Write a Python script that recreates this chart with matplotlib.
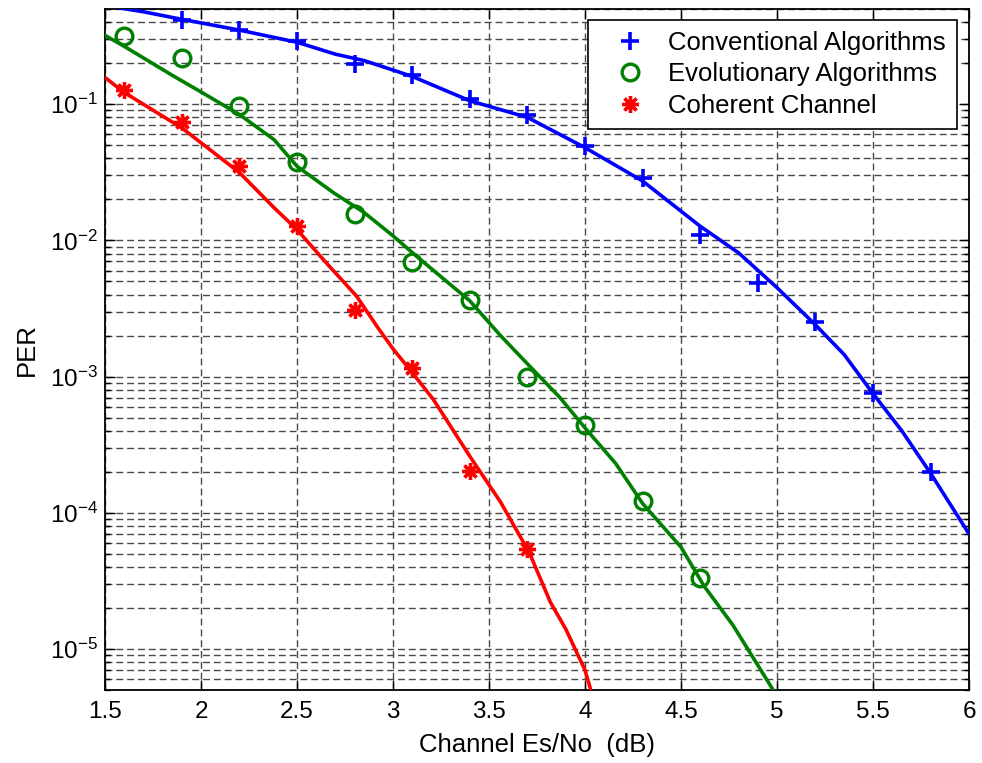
import numpy as np
import matplotlib
matplotlib.use('Agg')
import matplotlib.pyplot as plt

plt.rcParams['font.family'] = ['Liberation Sans', 'DejaVu Sans']
plt.rcParams['mathtext.fontset'] = 'custom'
plt.rcParams['mathtext.rm'] = 'Liberation Sans'
plt.rcParams['mathtext.default'] = 'regular'

# simulated points (markers)
conv_x = [1.9, 2.2, 2.5, 2.8, 3.1, 3.4, 3.7, 4.0, 4.3, 4.6, 4.9, 5.2, 5.5, 5.8]
conv_y = [0.417, 0.35, 0.29, 0.197, 0.163, 0.109, 0.084, 0.049, 0.0285, 0.011,
          0.0049, 0.0025, 7.6e-4, 1.98e-4]

evo_x = [1.6, 1.9, 2.2, 2.5, 2.8, 3.1, 3.4, 3.7, 4.0, 4.3, 4.6]
evo_y = [0.318, 0.217, 0.097, 0.0377, 0.0155, 0.0069, 0.00364, 1.0e-3, 4.4e-4,
         1.22e-4, 3.3e-5]

coh_x = [1.6, 1.9, 2.2, 2.5, 2.8, 3.1, 3.4, 3.7]
coh_y = [0.127, 0.074, 0.0352, 0.0127, 0.0031, 1.15e-3, 2.04e-4, 5.4e-5]

# curves (solid lines)
conv_line_x = [1.5, 1.7, 1.9, 2.2, 2.5, 2.7, 2.85, 3.1, 3.4, 3.7, 4.0, 4.3, 4.6,
               4.8, 5.0, 5.2, 5.35, 5.5, 5.65, 5.8, 6.0]
conv_line_y = [0.53, 0.477, 0.42, 0.35, 0.285, 0.233, 0.209, 0.16, 0.106, 0.080,
               0.048, 0.0273, 0.0127, 0.0081, 0.0045, 0.0024, 0.00145, 7.5e-4,
               4e-4, 1.95e-4, 7e-5]

evo_line_x = [1.5, 1.6, 1.85, 2.0, 2.2, 2.38, 2.5, 2.69, 2.85, 3.0, 3.12, 3.4,
              3.56, 3.71, 3.87, 4.0, 4.16, 4.3, 4.5, 4.62, 4.77, 4.98, 5.05]
evo_line_y = [0.32, 0.266, 0.163, 0.123, 0.084, 0.055, 0.035, 0.0224, 0.016,
              0.0108, 0.0077, 0.0036, 0.002, 0.0012, 7e-4, 4.2e-4, 2.3e-4,
              1.17e-4, 5.6e-5, 2.9e-5, 1.5e-5, 5e-6, 3.5e-6]

coh_line_x = [1.5, 1.6, 1.9, 2.2, 2.38, 2.5, 2.65, 2.81, 2.92, 3.0, 3.1, 3.21,
              3.4, 3.56, 3.71, 3.82, 3.9, 4.0, 4.05]
coh_line_y = [0.157, 0.122, 0.067, 0.0315, 0.0174, 0.012, 0.0069, 0.0039, 0.0023,
              0.0016, 1.07e-3, 6.8e-4, 2.6e-4, 1.2e-4, 5.1e-5, 2.2e-5, 1.4e-5,
              7e-6, 4e-6]

xticks = [1.5, 2, 2.5, 3, 3.5, 4, 4.5, 5, 5.5, 6]
xtick_labels = ['1.5', '2', '2.5', '3', '3.5', '4', '4.5', '5', '5.5', '6']

fig = plt.figure(figsize=(9.82, 7.63), dpi=100)
ax = fig.add_axes([105/982, 1 - 690/763, 864/982, 681/763])

blue = '#0000ff'
green = '#008000'
red = '#ff0000'

ax.plot(conv_line_x, conv_line_y, color=blue, lw=2.6, zorder=3)
ax.plot(evo_line_x, evo_line_y, color=green, lw=2.6, zorder=3)
ax.plot(coh_line_x, coh_line_y, color=red, lw=2.6, zorder=3)

h1, = ax.plot(conv_x, conv_y, ls='none', marker='+', ms=13, mew=2.6,
              color=blue, label='Conventional Algorithms', zorder=4)
h2, = ax.plot(evo_x, evo_y, ls='none', marker='o', ms=12, mew=2.4,
              mfc='none', mec=green, label='Evolutionary Algorithms', zorder=4)
h3, = ax.plot(coh_x, coh_y, ls='none', marker=(8, 2, 0), ms=12, mew=2.4,
              color=red, label='Coherent Channel', zorder=4)

ax.set_yscale('log')
ax.set_xlim(1.5, 6)
ax.set_ylim(5e-6, 0.5)
ax.set_xticks(xticks)
ax.set_xticklabels(xtick_labels)

grid_kw = dict(color='#4a4a4a', lw=1.0, linestyle=(0, (5, 2.8)))
ax.grid(True, which='major', axis='both', **grid_kw)
ax.grid(True, which='minor', axis='y', **grid_kw)
ax.set_axisbelow(True)

ax.tick_params(which='both', direction='in', top=True, right=True,
               labelsize=17.5, width=1)
ax.tick_params(axis='x', pad=8)
ax.tick_params(axis='y', pad=5)
ax.tick_params(which='major', length=7)
ax.tick_params(which='minor', length=3.5)
for s in ax.spines.values():
    s.set_linewidth(1.3)

ax.set_xlabel('Channel Es/No  (dB)', fontsize=18.5, labelpad=7)
ax.set_ylabel('PER', fontsize=18.5, labelpad=8)

leg = ax.legend(handles=[h1, h2, h3], loc='upper right',
                bbox_to_anchor=(0.986, 0.984), borderaxespad=0, fontsize=18.5,
                frameon=True, fancybox=False, framealpha=1, edgecolor='black',
                handlelength=2.4, handletextpad=0.3, borderpad=0.42,
                labelspacing=0.3)
leg.get_frame().set_linewidth(1.2)

fig.savefig('out.png', dpi=100)
